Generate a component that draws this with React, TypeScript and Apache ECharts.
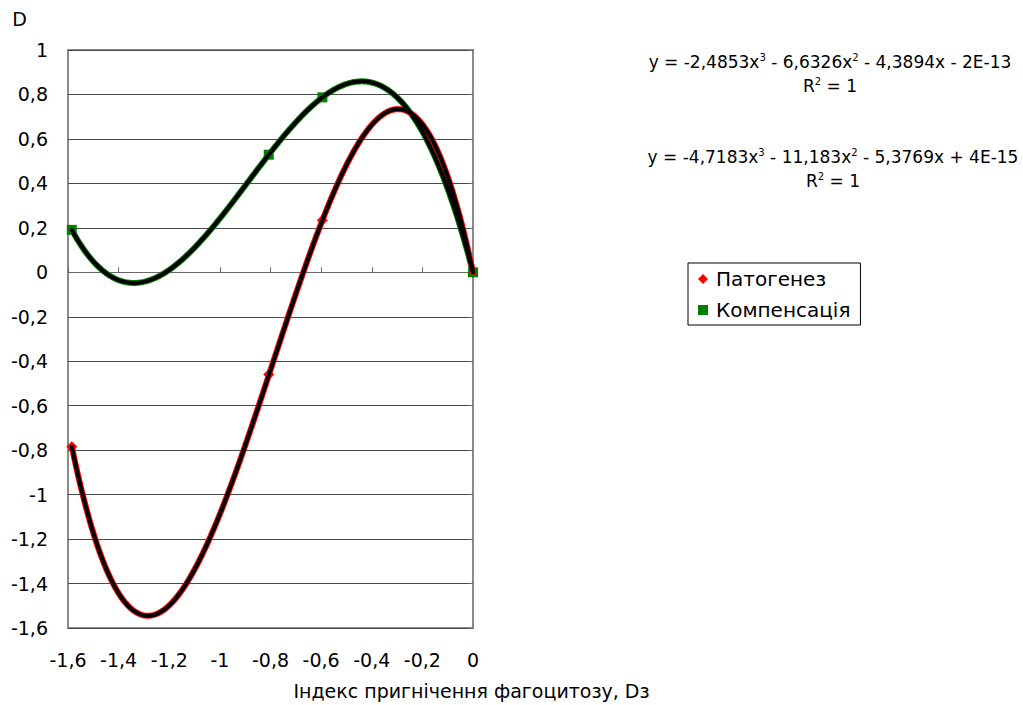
import React, { useEffect, useRef } from "react";
import * as echarts from "echarts";

// ---- data ----
const seriesNames = ["Патогенез", "Компенсація"];
const pointX = [-1.585, -0.807, -0.595, 0];
const patogenez = [-0.785, -0.46, 0.234, 0];
const kompensatsiya = [0.191, 0.529, 0.787, 0];
// trendline coefficients shown in the picture: [x^3, x^2, x, const]
const patogenezCoef = [-4.7183, -11.183, -5.3769, 4e-15];
const kompensatsiyaCoef = [-2.4853, -6.6326, -4.3894, -2e-13];
const equationTexts = [
  "y = -2,4853x{sup|3} - 6,6326x{sup|2} - 4,3894x - 2E-13",
  "y = -4,7183x{sup|3} - 11,183x{sup|2} - 5,3769x + 4E-15",
];
const r2Text = "R{sup|2} = 1";
const xAxisTitle = "Індекс пригнічення фагоцитозу, Dз";
const yAxisTitle = "D";

const FONT = "DejaVu Sans, Verdana, sans-serif";

const fmt = (v: number) => String(Math.round(v * 10) / 10).replace(".", ",");

function trend(coef: number[], x0: number, x1: number): number[][] {
  const out: number[][] = [];
  const n = 320;
  for (let i = 0; i <= n; i++) {
    const x = x0 + ((x1 - x0) * i) / n;
    const y = coef[0] * x * x * x + coef[1] * x * x + coef[2] * x + coef[3];
    out.push([x, y]);
  }
  return out;
}

export default function App() {
  const ref = useRef<HTMLDivElement>(null);
  useEffect(() => {
    if (!ref.current) return;
    const chart = echarts.init(ref.current, undefined, { renderer: "svg" });
    const x0 = pointX[0];
    const x1 = pointX[pointX.length - 1];
    const tP = trend(patogenezCoef, x0, x1);
    const tK = trend(kompensatsiyaCoef, x0, x1);
    const lineSeries = (name: string, data: number[][], color: string, width: number, z: number) => ({
      type: "line",
      name,
      data,
      showSymbol: false,
      symbol: "none",
      silent: true,
      z,
      lineStyle: { color, width, cap: "round", join: "round" },
      itemStyle: { color },
    });
    const axisText = { fontSize: 19, fontFamily: FONT, color: "#000" };
    const supStyle = { fontSize: 10, fontFamily: FONT, verticalAlign: "top", lineHeight: 8, fill: "#000" };
    const eqText = (text: string, x: number, y: number) => ({
      type: "text",
      x,
      y,
      style: {
        text,
        fontSize: 17,
        fontFamily: FONT,
        fill: "#000",
        align: "center",
        verticalAlign: "middle",
        lineHeight: 20,
        rich: { sup: supStyle },
      },
    });
    chart.setOption({
      animation: false,
      backgroundColor: "#fff",
      grid: {
        left: 68,
        top: 50,
        right: 550,
        bottom: 77,
        show: true,
        borderColor: "#8a8a8a",
        borderWidth: 2,
      },
      xAxis: [
        {
          type: "value",
          min: -1.6,
          max: 0,
          interval: 0.2,
          position: "bottom",
          axisLine: { show: false, onZero: false },
          axisTick: { show: false },
          splitLine: { show: false },
          axisLabel: { ...axisText, margin: 22, formatter: fmt, showMinLabel: true, showMaxLabel: true },
          name: xAxisTitle,
          nameLocation: "middle",
          nameGap: 53,
          nameTextStyle: { ...axisText, padding: [0, 0, 0, 402] },
        },
        {
          type: "value",
          min: -1.6,
          max: 0,
          interval: 0.2,
          axisLine: { show: true, onZero: true, onZeroAxisIndex: 0, lineStyle: { color: "#666", width: 1 } },
          axisTick: { show: true, length: 5, lineStyle: { color: "#666" } },
          axisLabel: { show: false },
          splitLine: { show: false },
        },
      ],
      yAxis: [
        {
          type: "value",
          min: -1.6,
          max: 1,
          interval: 0.2,
          position: "left",
          axisLine: { show: false, onZero: false },
          axisTick: { show: false },
          splitLine: { show: true, lineStyle: { color: "#4a4a4a", width: 1 } },
          axisLabel: { ...axisText, margin: 20, formatter: fmt },
          name: yAxisTitle,
          nameLocation: "end",
          nameGap: 22,
          nameTextStyle: { ...axisText, align: "right", padding: [0, 41, 0, 0] },
        },
        {
          type: "value",
          min: -1.6,
          max: 1,
          interval: 0.2,
          position: "right",
          axisLine: { show: false, onZero: false },
          axisTick: { show: true, inside: true, length: 5, lineStyle: { color: "#666" } },
          axisLabel: { show: false },
          splitLine: { show: false },
        },
      ],
      legend: {
        orient: "vertical",
        left: 688,
        top: 263,
        padding: [6, 10, 5, 10],
        borderColor: "#000",
        borderWidth: 1,
        itemWidth: 10,
        itemHeight: 10,
        itemGap: 11,
        textStyle: { ...axisText, fontSize: 20, lineHeight: 20, padding: [0, 0, 0, 3] },
        data: [
          { name: seriesNames[0], icon: "diamond" },
          { name: seriesNames[1], icon: "rect" },
        ],
      },
      series: [
        {
          type: "scatter",
          name: seriesNames[0],
          data: pointX.map((x, i) => [x, patogenez[i]]),
          symbol: "diamond",
          symbolSize: 11,
          itemStyle: { color: "#ff0000", opacity: 1 },
          z: 2,
        },
        {
          type: "scatter",
          name: seriesNames[1],
          data: pointX.map((x, i) => [x, kompensatsiya[i]]),
          symbol: "rect",
          symbolSize: 10,
          itemStyle: { color: "#008000", opacity: 1 },
          z: 2,
        },
        lineSeries("trendK_c", tK, "#008000", 6, 3),
        lineSeries("trendK_b", tK, "#000", 4, 4),
        lineSeries("trendP_c", tP, "#ff0000", 6, 3),
        lineSeries("trendP_b", tP, "#000", 4, 4),
      ],
      graphic: [
        eqText(equationTexts[0], 830, 62),
        eqText(r2Text, 830, 86),
        eqText(equationTexts[1], 833, 157),
        eqText(r2Text, 833, 181),
      ],
    });
    return () => chart.dispose();
  }, []);
  return (
    <div
      ref={ref}
      style={{ position: "absolute", left: 0, top: 0, width: 1023, height: 705 }}
    />
  );
}
